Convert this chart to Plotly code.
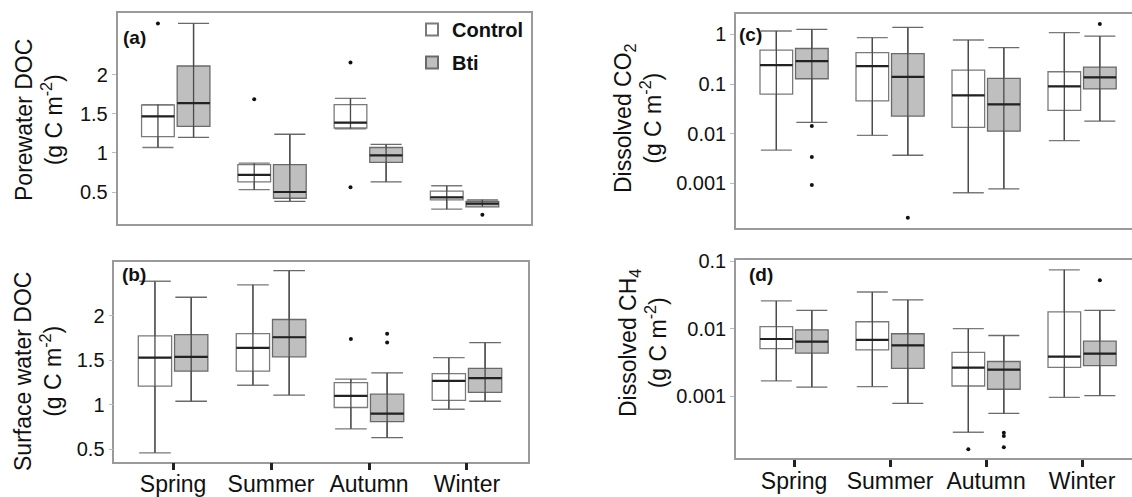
import plotly.graph_objects as go

W, H = 1132, 497
seasons = ["Spring", "Summer", "Autumn", "Winter"]

# ---- Panel (a): Porewater DOC ----
a_ctrl_low = [1.07, 0.53, 1.31, 0.28]
a_ctrl_q1 = [1.21, 0.63, 1.32, 0.40]
a_ctrl_med = [1.47, 0.72, 1.39, 0.43]
a_ctrl_q3 = [1.615, 0.85, 1.62, 0.51]
a_ctrl_up = [1.62, 0.87, 1.70, 0.58]
a_ctrl_out = [[2.66], [1.69], [2.16, 0.56], []]
a_bti_low = [1.20, 0.38, 0.63, 0.31]
a_bti_q1 = [1.34, 0.42, 0.88, 0.31]
a_bti_med = [1.64, 0.50, 0.97, 0.35]
a_bti_q3 = [2.115, 0.85, 1.07, 0.38]
a_bti_up = [2.66, 1.24, 1.11, 0.40]
a_bti_out = [[], [], [], [0.21]]

# ---- Panel (b): Surface water DOC ----
b_ctrl_low = [0.46, 1.22, 0.73, 0.95]
b_ctrl_q1 = [1.21, 1.38, 0.97, 1.05]
b_ctrl_med = [1.53, 1.64, 1.10, 1.27]
b_ctrl_q3 = [1.775, 1.80, 1.25, 1.35]
b_ctrl_up = [2.39, 2.35, 1.29, 1.53]
b_ctrl_out = [[], [], [1.74], []]
b_bti_low = [1.04, 1.11, 0.63, 1.04]
b_bti_q1 = [1.38, 1.54, 0.81, 1.14]
b_bti_med = [1.54, 1.76, 0.90, 1.30]
b_bti_q3 = [1.79, 1.96, 1.12, 1.41]
b_bti_up = [2.21, 2.51, 1.36, 1.70]
b_bti_out = [[], [], [1.80, 1.70], []]

# ---- Panel (c): Dissolved CO2 ----
c_ctrl_low = [0.0047, 0.0093, 0.00065, 0.0073]
c_ctrl_q1 = [0.063, 0.046, 0.0134, 0.0295]
c_ctrl_med = [0.24, 0.23, 0.059, 0.090]
c_ctrl_q3 = [0.48, 0.43, 0.19, 0.177]
c_ctrl_up = [1.17, 0.86, 0.77, 1.08]
c_ctrl_out = [[], [], [], []]
c_bti_low = [0.017, 0.0037, 0.00078, 0.018]
c_bti_q1 = [0.128, 0.0227, 0.0113, 0.080]
c_bti_med = [0.29, 0.14, 0.039, 0.136]
c_bti_q3 = [0.52, 0.41, 0.13, 0.22]
c_bti_up = [1.26, 1.38, 0.54, 0.92]
c_bti_out = [[0.0143, 0.0034, 0.00093], [0.000204], [], [1.61]]

# ---- Panel (d): Dissolved CH4 ----
d_ctrl_low = [0.0017, 0.0014, 0.000295, 0.00097]
d_ctrl_q1 = [0.0051, 0.0049, 0.00143, 0.0027]
d_ctrl_med = [0.0071, 0.0069, 0.00267, 0.0039]
d_ctrl_q3 = [0.0108, 0.0128, 0.0045, 0.0179]
d_ctrl_up = [0.026, 0.0353, 0.0101, 0.0753]
d_ctrl_out = [[], [], [0.000165], []]
d_bti_low = [0.00138, 0.00079, 0.00056, 0.00103]
d_bti_q1 = [0.0044, 0.0026, 0.00128, 0.00286]
d_bti_med = [0.0065, 0.0057, 0.0025, 0.0043]
d_bti_q3 = [0.0097, 0.0085, 0.0033, 0.0066]
d_bti_up = [0.0189, 0.0269, 0.0080, 0.0189]
d_bti_out = [[], [], [0.00029, 0.00026, 0.000177], [0.0526]]

# ---- styling ----
FONT = "Liberation Sans, Arial, sans-serif"
BOX_W = 0.34
OFFSET = 0.185
CTRL_FILL = "#ffffff"
BTI_FILL = "#bfbfbf"
MED_LINE = "#222222"
WHISK = "#4a4a4a"
FRAME = "#9a9a9a"

fig = go.Figure()

panels = [
    ("x", "y", (a_ctrl_low, a_ctrl_q1, a_ctrl_med, a_ctrl_q3, a_ctrl_up, a_ctrl_out),
     (a_bti_low, a_bti_q1, a_bti_med, a_bti_q3, a_bti_up, a_bti_out), True),
    ("x2", "y2", (b_ctrl_low, b_ctrl_q1, b_ctrl_med, b_ctrl_q3, b_ctrl_up, b_ctrl_out),
     (b_bti_low, b_bti_q1, b_bti_med, b_bti_q3, b_bti_up, b_bti_out), False),
    ("x3", "y3", (c_ctrl_low, c_ctrl_q1, c_ctrl_med, c_ctrl_q3, c_ctrl_up, c_ctrl_out),
     (c_bti_low, c_bti_q1, c_bti_med, c_bti_q3, c_bti_up, c_bti_out), False),
    ("x4", "y4", (d_ctrl_low, d_ctrl_q1, d_ctrl_med, d_ctrl_q3, d_ctrl_up, d_ctrl_out),
     (d_bti_low, d_bti_q1, d_bti_med, d_bti_q3, d_bti_up, d_bti_out), False),
]

overlays = []
for xa, ya, ctrl, bti, show in panels:
    for name, stats, off, fill, lc in (("Control", ctrl, -OFFSET, CTRL_FILL, "#7a7a7a"),
                                       ("Bti", bti, OFFSET, BTI_FILL, "#6a6a6a")):
        low, q1, med, q3, up, outs = stats
        pos = [i + off for i in range(len(seasons))]
        fig.add_trace(go.Box(
            x=pos, lowerfence=low, q1=q1, median=med, q3=q3, upperfence=up,
            width=BOX_W, whiskerwidth=0.95, fillcolor=fill,
            line=dict(color=lc, width=1.3), boxpoints=False,
            name=name, legendgroup=name, showlegend=show,
            xaxis=xa, yaxis=ya, hoverinfo="skip"))
        wx, wy, mx, my, ox, oy = [], [], [], [], [], []
        for p, l, u, m, o in zip(pos, low, up, med, outs):
            wx += [p, p, None]; wy += [l, u, None]
            mx += [p - BOX_W / 2, p + BOX_W / 2, None]; my += [m, m, None]
            ox += [p] * len(o); oy += list(o)
        overlays.append(go.Scatter(x=wx, y=wy, mode="lines", line=dict(color=WHISK, width=1.3),
                                   showlegend=False, xaxis=xa, yaxis=ya, hoverinfo="skip"))
        overlays.append(go.Scatter(x=mx, y=my, mode="lines", line=dict(color=MED_LINE, width=2.2),
                                   showlegend=False, xaxis=xa, yaxis=ya, hoverinfo="skip"))
        if ox:
            overlays.append(go.Scatter(x=ox, y=oy, mode="markers", marker=dict(color="#111", size=4),
                                       showlegend=False, xaxis=xa, yaxis=ya, hoverinfo="skip"))
for t in overlays:
    fig.add_trace(t)


def px_x(a, b):
    return [a / W, b / W]


def px_y(top, bottom):
    return [1 - bottom / H, 1 - top / H]


tickfont = dict(family=FONT, size=20, color="#111")
xtickfont = dict(family=FONT, size=23, color="#111")
common_y = dict(showline=True, linecolor=FRAME, linewidth=1.5, ticks="outside", ticklen=4,
                tickcolor="#a9bfdc", tickwidth=1, tickfont=tickfont, showgrid=False, zeroline=False)
common_x = dict(showline=True, linecolor=FRAME, linewidth=1.5, showgrid=False, zeroline=False,
                tickmode="array", tickvals=list(range(len(seasons))), ticktext=seasons)

fig.update_layout(
    width=W, height=H, template="none", autosize=False,
    margin=dict(l=0, r=0, t=0, b=0),
    paper_bgcolor="white", plot_bgcolor="white",
    boxmode="overlay",
    xaxis=dict(domain=px_x(117.5, 531), range=[-0.605, 3.69], anchor="y", mirror=True,
               showticklabels=False, ticks="", **common_x),
    yaxis=dict(domain=px_y(13.3, 224), range=[0.09, 2.79], anchor="x", mirror=True,
               tickvals=[0.5, 1, 1.5, 2], ticktext=["0.5", "1", "1.5", "2"], **common_y),
    xaxis2=dict(domain=px_x(114.3, 527.7), range=[-0.6, 3.62], anchor="y2", mirror=True,
                ticks="outside", ticklen=7, tickwidth=3, tickcolor="#222", tickfont=xtickfont,
                ticklabelstandoff=-6, **common_x),
    yaxis2=dict(domain=px_y(261.7, 461.7), range=[0.36, 2.61], anchor="x2", mirror=True,
                tickvals=[0.5, 1, 1.5, 2], ticktext=["0.5", "1", "1.5", "2"], **common_y),
    xaxis3=dict(domain=px_x(736, 1132), range=[-0.605, 3.52], anchor="y3", mirror=True,
                showticklabels=False, ticks="", **common_x),
    yaxis3=dict(domain=px_y(14, 227.7), type="log", range=[-3.89, 0.41], anchor="x3",
                tickvals=[0.001, 0.01, 0.1, 1], ticktext=["0.001", "0.01", "0.1", "1"], **common_y),
    xaxis4=dict(domain=px_x(736, 1132), range=[-0.605, 3.52], anchor="y4", mirror=True,
                ticks="outside", ticklen=7, tickwidth=3, tickcolor="#222", tickfont=xtickfont,
                ticklabelstandoff=-6, **common_x),
    yaxis4=dict(domain=px_y(260, 458.3), type="log", range=[-3.916, -0.978], anchor="x4",
                tickvals=[0.001, 0.01, 0.1], ticktext=["0.001", "0.01", "0.1"], **common_y),
    legend=dict(x=412 / W, y=1 - 10 / H, xanchor="left", yanchor="top",
                bgcolor="rgba(0,0,0,0)", font=dict(family=FONT, size=20, color="#111", weight="bold"),
                tracegroupgap=4, itemsizing="constant"),
    showlegend=True,
)

annots = []
def title(text, xpx, ypx):
    annots.append(dict(text=text, x=xpx / W, y=1 - ypx / H, xref="paper", yref="paper",
                       showarrow=False, textangle=-90, xanchor="center", yanchor="middle",
                       font=dict(family=FONT, size=23, color="#111")))

title("Porewater DOC<br>(g C m<sup>-2</sup>)", 39, 120)
title("Surface water DOC<br>(g C m<sup>-2</sup>)", 38, 372)
title("Dissolved CO<sub>2</sub><br>(g C m<sup>-2</sup>)", 638, 118)
title("Dissolved CH<sub>4</sub><br>(g C m<sup>-2</sup>)", 643, 343)

for lab, xpx, ypx in (("(a)", 134, 37.5), ("(b)", 133.5, 274), ("(c)", 750, 34.5), ("(d)", 761, 274)):
    annots.append(dict(text="<b>" + lab + "</b>", x=xpx / W, y=1 - ypx / H, xref="paper", yref="paper",
                       showarrow=False, xanchor="center", yanchor="middle",
                       font=dict(family=FONT, size=19, color="#111")))
fig.update_layout(annotations=annots)

fig.write_html("out.html", config={"displayModeBar": False},
               post_script="document.body.style.margin='0';")
